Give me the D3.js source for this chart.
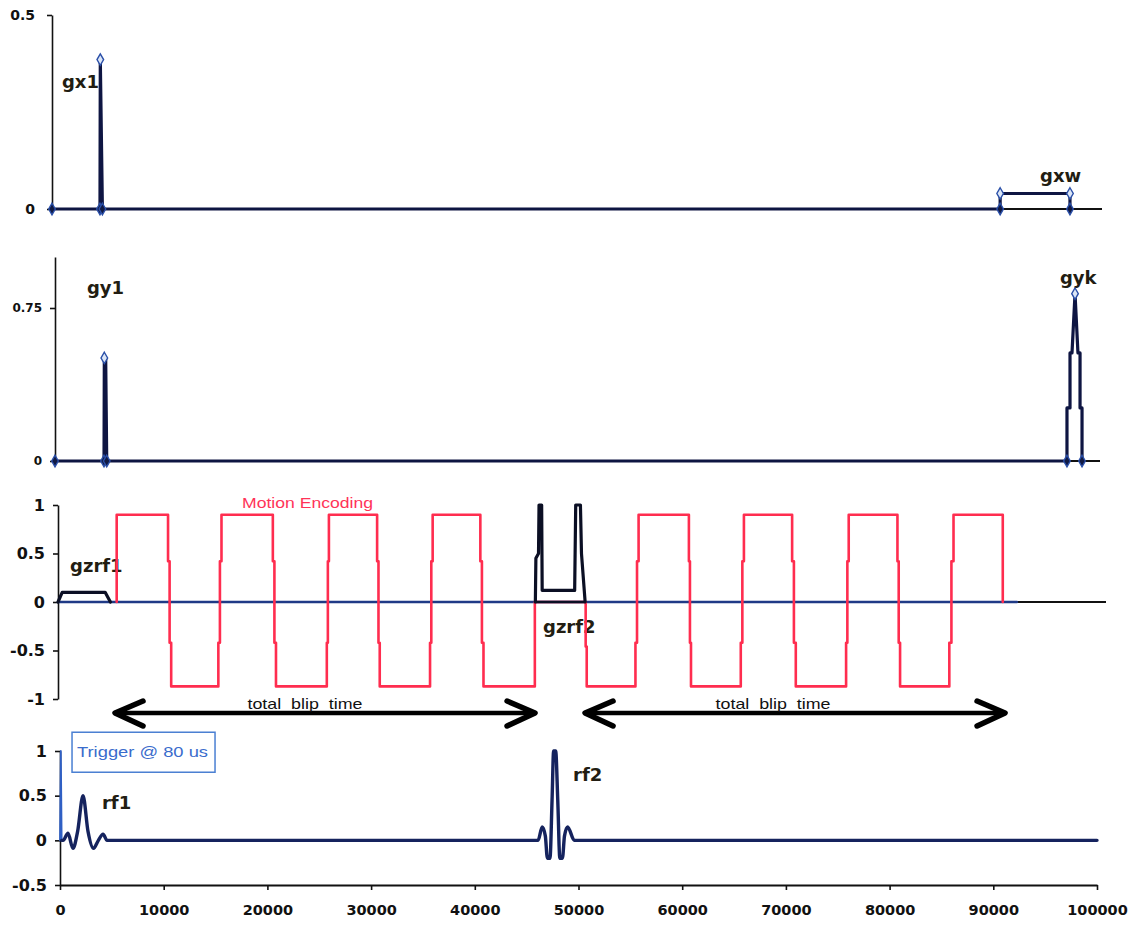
<!DOCTYPE html>
<html lang="en">
<head>
<meta charset="UTF-8">
<title>sequence diagram</title>
<script src="https://cdn.jsdelivr.net/npm/d3@7/dist/d3.min.js"></script>
<style>
  body { margin: 0; background: #fff; }
</style>
</head>
<body>
<script>
// ---- data ----
var xTicks = [0, 10000, 20000, 30000, 40000, 50000, 60000, 70000, 80000, 90000, 100000];

// gradient x (top panel)
var gx = [[0, 0], [4570, 0], [4600, 0.385], [4800, 0], [90300, 0], [90300, 0.04], [96950, 0.04], [96950, 0]];
var gxMarks = [[0, 0], [4570, 0], [4600, 0.385], [4800, 0], [90300, 0], [90300, 0.04], [96950, 0.04], [96950, 0]];

// gradient y
var gy = [[0, 0], [4690, 0], [4720, 0.505], [4850, 0.505], [4900, 0.25], [4950, 0], [96840, 0], [96840, 0.26], [97130, 0.26],
  [97130, 0.53], [97320, 0.53], [97610, 0.82], [97890, 0.53], [98090, 0.53], [98090, 0.26], [98280, 0.26], [98280, 0]];
var gyMarks = [[0, 0], [4690, 0], [4720, 0.505], [4950, 0], [96840, 0], [97610, 0.82], [98280, 0]];

// slice select gradient
var gzrf1 = [[0, 0], [400, 0.1], [4500, 0.1], [5000, 0]];
var gzrf2 = [[45550, 0], [45600, 0.45], [45850, 0.5], [45900, 1.0], [46150, 1.0], [46200, 0.12], [49300, 0.12],
  [49400, 1.0], [49850, 1.0], [49950, 0.5], [50300, 0]];
var gzrf2Base = [[45550, 0], [50300, 0]];
var gzBase = [[0, 0], [91500, 0]];

// motion encoding gradient
var motion = [[5600, 0], [5600, 0.9],
  [10500, 0.9], [10500, 0.42], [10650, 0.42], [10650, -0.42], [10800, -0.42], [10800, -0.87],
  [15300, -0.87], [15300, -0.42], [15450, -0.42], [15450, 0.42], [15600, 0.42], [15600, 0.9],
  [20500, 0.9], [20500, 0.42], [20650, 0.42], [20650, -0.42], [20800, -0.42], [20800, -0.87],
  [25650, -0.87], [25650, -0.42], [25750, -0.42], [25750, 0.42], [25850, 0.42], [25850, 0.9],
  [30450, 0.9], [30450, 0.42], [30580, 0.42], [30580, -0.42], [30700, -0.42], [30700, -0.87],
  [35500, -0.87], [35500, -0.42], [35620, -0.42], [35620, 0.42], [35750, 0.42], [35750, 0.9],
  [40300, 0.9], [40300, 0.42], [40450, 0.42], [40450, -0.42], [40600, -0.42], [40600, -0.87],
  [45500, -0.87], [45500, 0],
  [50350, 0], [50350, -0.46], [50450, -0.46], [50450, -0.87],
  [55100, -0.87], [55100, -0.42], [55250, -0.42], [55250, 0.42], [55400, 0.42], [55400, 0.9],
  [60200, 0.9], [60200, 0.42], [60300, 0.42], [60300, -0.42], [60400, -0.42], [60400, -0.87],
  [65150, -0.87], [65150, -0.42], [65300, -0.42], [65300, 0.42], [65450, 0.42], [65450, 0.9],
  [70050, 0.9], [70050, 0.42], [70220, 0.42], [70220, -0.42], [70400, -0.42], [70400, -0.87],
  [75200, -0.87], [75200, -0.42], [75320, -0.42], [75320, 0.42], [75450, 0.42], [75450, 0.9],
  [80100, 0.9], [80100, 0.42], [80220, 0.42], [80220, -0.42], [80350, -0.42], [80350, -0.87],
  [85050, -0.87], [85050, -0.42], [85250, -0.42], [85250, 0.42], [85450, 0.42], [85450, 0.9],
  [90150, 0.9], [90150, 0]];

// blip arrows (start, end)
var blips = [[5440, 45520], [50290, 90370]];

// rf pulses
var trigger = [[0, 0], [80, 1], [160, 0]];
var rf = [[160, 0], [300, 0], [770, 0.08], [1250, -0.09], [1700, 0.1], [2220, 0.5], [2700, 0.1], [3230, -0.09],
  [3700, 0.0], [4150, 0.07], [4530, 0],
  [46100, 0], [46500, 0.15], [46800, 0.05], [47000, -0.2], [47250, -0.2], [47450, 0.45], [47600, 1.0],
  [47800, 1.0], [48000, 0.45], [48200, -0.2], [48450, -0.2], [48650, 0.05], [48950, 0.15], [49600, 0],
  [100000, 0]];

// ---- drawing ----
var width = 1129, height = 925;
var svg = d3.select("body").append("svg").attr("width", width).attr("height", height);

function panel(xRange, yRange, yDomain) {
  return {
    x: d3.scaleLinear().domain([0, 100000]).range(xRange),
    y: d3.scaleLinear().domain(yDomain).range(yRange)
  };
}
var p1 = panel([52, 1102], [209, 15], [0, 0.5]);
var p2 = panel([55, 1100], [461, 257], [0, 1]);
var p3 = panel([58, 1106], [699, 505], [-1, 1]);
var p4 = panel([60, 1097], [885, 751], [-0.5, 1]);

function yAxis(p, ticks, fs, pad) {
  var g = svg.append("g")
    .attr("transform", "translate(" + p.x(0) + ",0)")
    .call(d3.axisLeft(p.y).tickValues(ticks).tickSize(5).tickSizeOuter(0).tickPadding(pad)
      .tickFormat(function (d) { return d; }));
  g.select(".domain").attr("stroke", "#111").attr("stroke-width", 1.6);
  g.selectAll(".tick line").attr("stroke", "#111").attr("stroke-width", 1.6);
  g.selectAll("text").attr("font-family", "DejaVu Sans").attr("font-weight", "bold")
    .attr("font-size", fs).attr("fill", "#111");
  return g;
}
function hLine(p, yv) {
  svg.append("line")
    .attr("x1", p.x(0)).attr("x2", p.x(100000))
    .attr("y1", p.y(yv)).attr("y2", p.y(yv))
    .attr("stroke", "#111").attr("stroke-width", 1.8);
}
function series(p, data, color, w, curve) {
  var line = d3.line().x(function (d) { return p.x(d[0]); }).y(function (d) { return p.y(d[1]); });
  if (curve) line.curve(curve);
  svg.append("path").datum(data).attr("d", line)
    .attr("fill", "none").attr("stroke", color).attr("stroke-width", w)
    .attr("stroke-linejoin", "round").attr("stroke-linecap", "round");
}
function marks(p, data) {
  svg.append("g").selectAll("path").data(data).enter().append("path")
    .attr("d", d3.symbol(d3.symbolDiamond).size(38))
    .attr("transform", function (d) { return "translate(" + p.x(d[0]) + "," + p.y(d[1]) + ")"; })
    .attr("fill", function (d) { return d[1] === 0 ? "#111a44" : "#dce6f6"; })
    .attr("stroke", "#2a4fa8").attr("stroke-width", 1.4);
}
function label(p, txt, xv, yv, opt) {
  opt = opt || {};
  var t = svg.append("text")
    .attr("x", p.x(xv)).attr("y", p.y(yv))
    .attr("font-family", opt.family || "DejaVu Sans")
    .attr("font-weight", opt.weight || "bold")
    .attr("font-size", opt.size || 18)
    .attr("fill", opt.color || "#221d12")
    .attr("text-anchor", opt.anchor || "start")
    .style("white-space", "pre")
    .text(txt);
  if (opt.len) t.attr("textLength", opt.len).attr("lengthAdjust", "spacingAndGlyphs");
  return t;
}

// panel 1 : gx
label(p1, "gx1", 950, 0.312);
label(p1, "gxw", 94100, 0.07);
hLine(p1, 0);
yAxis(p1, [0, 0.5], 14, 12);
series(p1, gx, "#0e1542", 3.2);
marks(p1, gxMarks);

// panel 2 : gy
label(p2, "gy1", 3060, 0.82);
label(p2, "gyk", 96170, 0.87);
hLine(p2, 0);
yAxis(p2, [0, 0.75], 12, 8);
series(p2, gy, "#0e1542", 3.2);
marks(p2, gyMarks);

// panel 3 : gz + motion encoding
label(p3, "gzrf1", 1150, 0.31);
label(p3, "gzrf2", 46280, -0.32);
label(p3, "Motion Encoding", 17560, 0.97,
  {family: "Liberation Sans", weight: "normal", size: 14, color: "#ff3358", len: 131});
hLine(p3, 0);
yAxis(p3, [-1, -0.5, 0, 0.5, 1], 16, 8);
series(p3, gzBase, "#1f3a86", 2.6);
series(p3, motion, "#ff2d4f", 2.6);
series(p3, gzrf2Base, "#0b0f24", 2.6);
series(p3, gzrf1, "#0b0f24", 3.2);
series(p3, gzrf2, "#0b0f24", 3.2);

// blip time arrows
var ay = 713;
blips.forEach(function (b) {
  var x0 = p3.x(b[0]), x1 = p3.x(b[1]);
  svg.append("line").attr("x1", x0 + 2).attr("x2", x1 - 2).attr("y1", ay).attr("y2", ay)
    .attr("stroke", "#000").attr("stroke-width", 4.5);
  [[x0, 1], [x1, -1]].forEach(function (e) {
    svg.append("path")
      .attr("d", "M" + (e[0] + e[1] * 28) + "," + (ay - 12) + "L" + e[0] + "," + ay + "L" + (e[0] + e[1] * 28) + "," + (ay + 13))
      .attr("fill", "none").attr("stroke", "#000").attr("stroke-width", 5.5)
      .attr("stroke-linecap", "round").attr("stroke-linejoin", "round");
  });
});
label(p3, "total  blip  time", 23570, -1.105,
  {family: "Liberation Sans", weight: "normal", size: 15, color: "#111", anchor: "middle", len: 115});
label(p3, "total  blip  time", 68230, -1.105,
  {family: "Liberation Sans", weight: "normal", size: 15, color: "#111", anchor: "middle", len: 115});

// panel 4 : rf
svg.append("rect")
  .attr("x", p4.x(1160)).attr("y", p4.y(1.21)).attr("width", 143).attr("height", 40)
  .attr("fill", "#fff").attr("stroke", "#4a7fd2").attr("stroke-width", 1.5);
label(p4, "Trigger @ 80 us", 1640, 0.93,
  {family: "Liberation Sans", weight: "normal", size: 15, color: "#3a6ccc", len: 131});
label(p4, "rf1", 4050, 0.35);
label(p4, "rf2", 49470, 0.66);

yAxis(p4, [-0.5, 0, 0.5, 1], 16, 8);
var xg = svg.append("g")
  .attr("transform", "translate(0," + p4.y(-0.5) + ")")
  .call(d3.axisBottom(p4.x).tickValues(xTicks).tickSize(5).tickSizeOuter(0).tickPadding(15)
    .tickFormat(function (d) { return d; }));
xg.select(".domain").attr("stroke", "#111").attr("stroke-width", 1.8);
xg.selectAll(".tick line").attr("stroke", "#111").attr("stroke-width", 1.6);
xg.selectAll("text").attr("font-family", "DejaVu Sans").attr("font-weight", "bold")
  .attr("font-size", 14.5).attr("fill", "#111");

series(p4, trigger, "#2f5fc4", 1.8);
series(p4, rf, "#15235e", 3.4, d3.curveMonotoneX);
</script>
</body>
</html>
